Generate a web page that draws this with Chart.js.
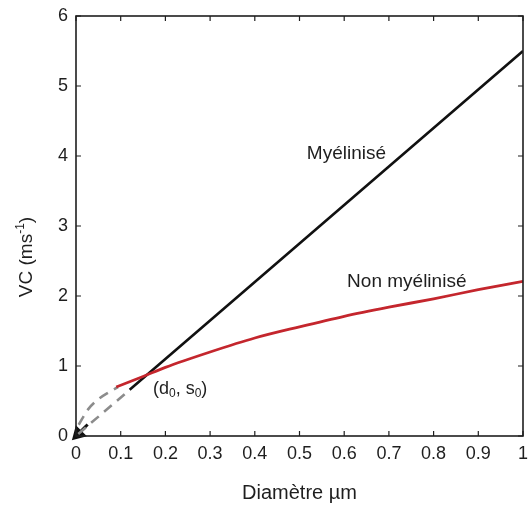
<!DOCTYPE html>
<html>
<head>
    <meta charset="utf-8" />
    <title>Vitesse de conduction</title>
    <script src="https://cdn.jsdelivr.net/npm/chart.js"></script>
    <style>
        html, body {
            margin: 0;
            padding: 0;
            background: #ffffff;
        }
        .chart-box {
            position: relative;
            width: 528px;
            height: 505px;
        }
    </style>
</head>
<body>
    <div class="chart-box">
        <canvas id="vcChart"></canvas>
    </div>
    <script>
        // values (diameter in µm, VC in m/s)
        const myelinX = [0.12, 0.3, 0.5, 0.7, 1.0];
        const myelinY = [0.66, 1.65, 2.75, 3.85, 5.5];
        const myelinDashX = [0.005, 0.115];
        const myelinDashY = [0.03, 0.63];

        const nonMyelinX = [0.09, 0.15, 0.2, 0.3, 0.4, 0.5, 0.6, 0.7, 0.8, 0.9, 1.0];
        const nonMyelinY = [0.70, 0.85, 0.98, 1.2, 1.4, 1.56, 1.71, 1.84, 1.96, 2.09, 2.21];
        const nonMyelinDashX = [0.006, 0.027, 0.049, 0.075, 0.094];
        const nonMyelinDashY = [0.16, 0.38, 0.52, 0.63, 0.70];

        const arrowX = [0.026, 0.005];
        const arrowY = [0.165, 0.03];

        const xTicks = [0, 0.1, 0.2, 0.3, 0.4, 0.5, 0.6, 0.7, 0.8, 0.9, 1];
        const yTicks = [0, 1, 2, 3, 4, 5, 6];

        // text labels placed in data units
        const noteText = ['Myélinisé', 'Non myélinisé'];
        const noteX = [0.605, 0.74];
        const noteY = [4.03, 2.2];

        function toPoints(xs, ys) {
            return xs.map((x, i) => ({ x: x, y: ys[i] }));
        }

        const FONT = '"Liberation Sans", Arial, Helvetica, sans-serif';
        const INK = '#1e1e1e';

        function noPadding(scale) {
            scale.paddingTop = 0;
            scale.paddingBottom = 0;
            scale.paddingLeft = 0;
            scale.paddingRight = 0;
        }

        // frame on all four sides, ticks pointing inward, labels and y title
        const framePlugin = {
            id: 'frame',
            afterDraw(chart) {
                const ctx = chart.ctx;
                const a = chart.chartArea;
                const xs = chart.scales.x;
                const ys = chart.scales.y;
                ctx.save();
                ctx.strokeStyle = INK;
                ctx.lineWidth = 1.6;
                ctx.strokeRect(a.left, a.top, a.right - a.left, a.bottom - a.top);

                ctx.lineWidth = 1.2;
                const len = 5;
                xTicks.forEach(v => {
                    const px = xs.getPixelForValue(v);
                    ctx.beginPath();
                    ctx.moveTo(px, a.bottom);
                    ctx.lineTo(px, a.bottom - len);
                    ctx.moveTo(px, a.top);
                    ctx.lineTo(px, a.top + len);
                    ctx.stroke();
                });
                yTicks.forEach(v => {
                    const py = ys.getPixelForValue(v);
                    ctx.beginPath();
                    ctx.moveTo(a.left, py);
                    ctx.lineTo(a.left + len, py);
                    ctx.moveTo(a.right, py);
                    ctx.lineTo(a.right - len, py);
                    ctx.stroke();
                });

                // curve names
                ctx.fillStyle = INK;
                ctx.font = '19px ' + FONT;
                ctx.textAlign = 'center';
                ctx.textBaseline = 'middle';
                noteText.forEach((t, i) => {
                    ctx.fillText(t, xs.getPixelForValue(noteX[i]), ys.getPixelForValue(noteY[i]));
                });

                // (d0, s0) with subscripts
                const parts = [['(d', false], ['0', true], [', s', false], ['0', true], [')', false]];
                const big = '18px ' + FONT;
                const small = '12px ' + FONT;
                let total = 0;
                parts.forEach(p => {
                    ctx.font = p[1] ? small : big;
                    total += ctx.measureText(p[0]).width;
                });
                let cx = xs.getPixelForValue(0.233) - total / 2;
                const cy = ys.getPixelForValue(0.67);
                ctx.textAlign = 'left';
                parts.forEach(p => {
                    ctx.font = p[1] ? small : big;
                    ctx.fillText(p[0], cx, p[1] ? cy + 5 : cy);
                    cx += ctx.measureText(p[0]).width;
                });

                // y title: VC (ms-1) with superscript
                const tparts = [['VC (ms', false], ['-1', true], [')', false]];
                const tbig = '19px ' + FONT;
                let tw = 0;
                tparts.forEach(p => {
                    ctx.font = p[1] ? small : tbig;
                    tw += ctx.measureText(p[0]).width;
                });
                ctx.translate(27, 257);
                ctx.rotate(-Math.PI / 2);
                let tx = -tw / 2;
                tparts.forEach(p => {
                    ctx.font = p[1] ? small : tbig;
                    ctx.fillText(p[0], tx, p[1] ? -6 : 0);
                    tx += ctx.measureText(p[0]).width;
                });
                ctx.restore();
            }
        };

        const ctx = document.getElementById('vcChart').getContext('2d');
        new Chart(ctx, {
            type: 'line',
            data: {
                datasets: [
                    {
                        label: 'Non myélinisé',
                        data: toPoints(nonMyelinX, nonMyelinY),
                        borderColor: '#c4262d',
                        borderWidth: 2.8,
                        pointRadius: 0,
                        cubicInterpolationMode: 'monotone',
                        order: 0
                    },
                    {
                        label: 'Myélinisé',
                        data: toPoints(myelinX, myelinY),
                        borderColor: '#111111',
                        borderWidth: 2.6,
                        pointRadius: 0,
                        order: 1
                    },
                    {
                        label: 'Non myélinisé (extrapolé)',
                        data: toPoints(nonMyelinDashX, nonMyelinDashY),
                        borderColor: '#8c8c8c',
                        borderWidth: 2.6,
                        borderDash: [10, 7],
                        pointRadius: 0,
                        cubicInterpolationMode: 'monotone',
                        order: 2
                    },
                    {
                        label: 'Myélinisé (extrapolé)',
                        data: toPoints(myelinDashX, myelinDashY),
                        borderColor: '#8c8c8c',
                        borderWidth: 2.6,
                        borderDash: [10, 7],
                        pointRadius: 0,
                        order: 3
                    },
                    {
                        label: 'origine',
                        data: toPoints(arrowX, arrowY),
                        borderColor: '#111111',
                        backgroundColor: '#111111',
                        borderWidth: 3,
                        pointRadius: [0, 6],
                        pointStyle: 'triangle',
                        rotation: 225,
                        clip: false,
                        order: 4
                    }
                ]
            },
            options: {
                responsive: true,
                maintainAspectRatio: false,
                animation: false,
                layout: {
                    autoPadding: false,
                    padding: { top: 16, right: 5, left: 0, bottom: 0 }
                },
                plugins: {
                    legend: { display: false },
                    tooltip: { enabled: false }
                },
                scales: {
                    x: {
                        type: 'linear',
                        min: 0,
                        max: 1,
                        afterBuildTicks(scale) {
                            scale.ticks = xTicks.map(v => ({ value: v }));
                        },
                        afterFit(scale) {
                            scale.height = 69;
                            noPadding(scale);
                        },
                        grid: { display: false, drawTicks: false },
                        border: { display: false },
                        ticks: {
                            padding: 7,
                            color: INK,
                            maxRotation: 0,
                            autoSkip: false,
                            font: { family: FONT, size: 18 },
                            callback: v => String(Number(v.toFixed(1)))
                        },
                        title: {
                            display: true,
                            text: 'Diamètre µm',
                            color: INK,
                            font: { family: FONT, size: 20 },
                            padding: { top: 10, bottom: 0 }
                        }
                    },
                    y: {
                        min: 0,
                        max: 6,
                        afterBuildTicks(scale) {
                            scale.ticks = yTicks.map(v => ({ value: v }));
                        },
                        afterFit(scale) {
                            scale.width = 76;
                            noPadding(scale);
                        },
                        grid: { display: false, drawTicks: false },
                        border: { display: false },
                        ticks: {
                            padding: 8,
                            color: INK,
                            font: { family: FONT, size: 18 }
                        }
                    }
                }
            },
            plugins: [framePlugin]
        });
    </script>
</body>
</html>
